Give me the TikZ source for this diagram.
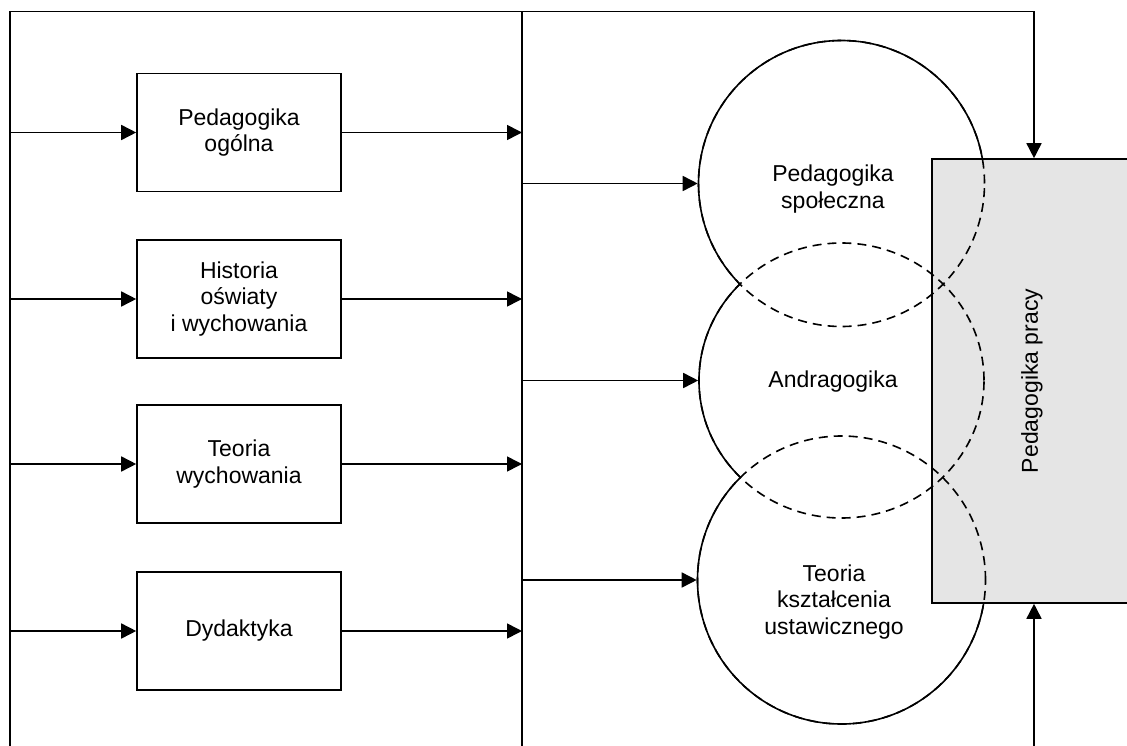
\documentclass[tikz,border=0pt]{standalone}
\usepackage{fontspec}
\setmainfont{Liberation Sans}
\usetikzlibrary{arrows.meta,shapes.geometric}
\begin{document}
\begin{tikzpicture}[x=1pt,y=-1pt,
  line width=1.6pt,
  arr/.style={-{Triangle[length=15pt,width=15pt]}},
  boxnode/.style={draw,minimum width=204pt,minimum height=118pt,inner sep=0pt,align=center,font=\fontsize{23}{26.5}\selectfont},
  lbl/.style={align=center,font=\fontsize{23}{26.5}\selectfont},
  dsh/.style={dash pattern=on 9pt off 6pt},
  ring/.style={draw=none,inner sep=0pt}]
\useasboundingbox (0,0) rectangle (1127,746);
% frame coordinates
\coordinate (tl) at (10,11.5);
\coordinate (bl) at (10,760);
\coordinate (tm) at (522,11.5);
\coordinate (bm) at (522,760);
\coordinate (tr) at (1034,11.5);
\coordinate (br) at (1034,760);
% gray box
\node[draw,fill=gray!20,minimum width=268pt,minimum height=444pt,inner sep=0pt] (pp) at (1066,381) {};
% boxes
\node[boxnode] (b1) at (239,132.5) {Pedagogika\\ogólna};
\node[boxnode] (b2) at (239,299) {Historia\\oświaty\\i wychowania};
\node[boxnode] (b3) at (239,464) {Teoria\\wychowania};
\node[boxnode] (b4) at (239,631) {Dydaktyka};
% circle anchors
\node[ring,circle,minimum size=286pt] (c1) at (841.5,183.5) {};
\node[ring,ellipse,minimum width=285pt,minimum height=275pt] (c2) at (841.5,380.5) {};
\node[ring,circle,minimum size=288pt] (c3) at (841.5,580) {};
% frame lines
\draw[arr] (bl) -- (tl) -- (tr) -- (pp.north -| tr);
\draw (tm) -- (bm);
\draw[arr] (br) -- (pp.south -| tr);
% arrows to and from boxes
\foreach \i in {1,...,4} {
  \draw[arr] (b\i.west -| tl) -- (b\i.west);
  \draw[arr] (b\i.east) -- (b\i.east -| tm);
}
% arrows to circles
\foreach \i in {1,2,3} {
  \draw[arr] (c\i.west -| tm) -- (c\i.west);
}
% dashed outlines
\draw[dsh] (841.5,183.5) circle[radius=143pt];
\draw[dsh] (841.5,380.5) ellipse[x radius=142.5pt,y radius=137.5pt];
\draw[dsh] (841.5,580) circle[radius=144pt];
% solid parts
\begin{scope}[even odd rule]
\clip (-50,-50) rectangle (1200,800) (841.5,380.5) ellipse[x radius=142.5pt,y radius=137.5pt];
\clip (-50,-50) rectangle (1200,800) (932,159) rectangle (1200,603);
\draw (841.5,183.5) circle[radius=143pt];
\end{scope}
\begin{scope}[even odd rule]
\clip (-50,-50) rectangle (1200,800) (841.5,183.5) circle[radius=143pt];
\clip (-50,-50) rectangle (1200,800) (841.5,580) circle[radius=144pt];
\clip (-50,-50) rectangle (1200,800) (932,159) rectangle (1200,603);
\draw (841.5,380.5) ellipse[x radius=142.5pt,y radius=137.5pt];
\end{scope}
\begin{scope}[even odd rule]
\clip (-50,-50) rectangle (1200,800) (841.5,380.5) ellipse[x radius=142.5pt,y radius=137.5pt];
\clip (-50,-50) rectangle (1200,800) (932,159) rectangle (1200,603);
\draw (841.5,580) circle[radius=144pt];
\end{scope}
% labels
\node[lbl] (t1) at (833,189) {Pedagogika\\społeczna};
\node[lbl] (t2) at (833,382) {Andragogika};
\node[lbl] (t3) at (834,602) {Teoria\\kształcenia\\ustawicznego};
\node[lbl,rotate=90] (t4) at (1032,381) {Pedagogika pracy};
\end{tikzpicture}
\end{document}
